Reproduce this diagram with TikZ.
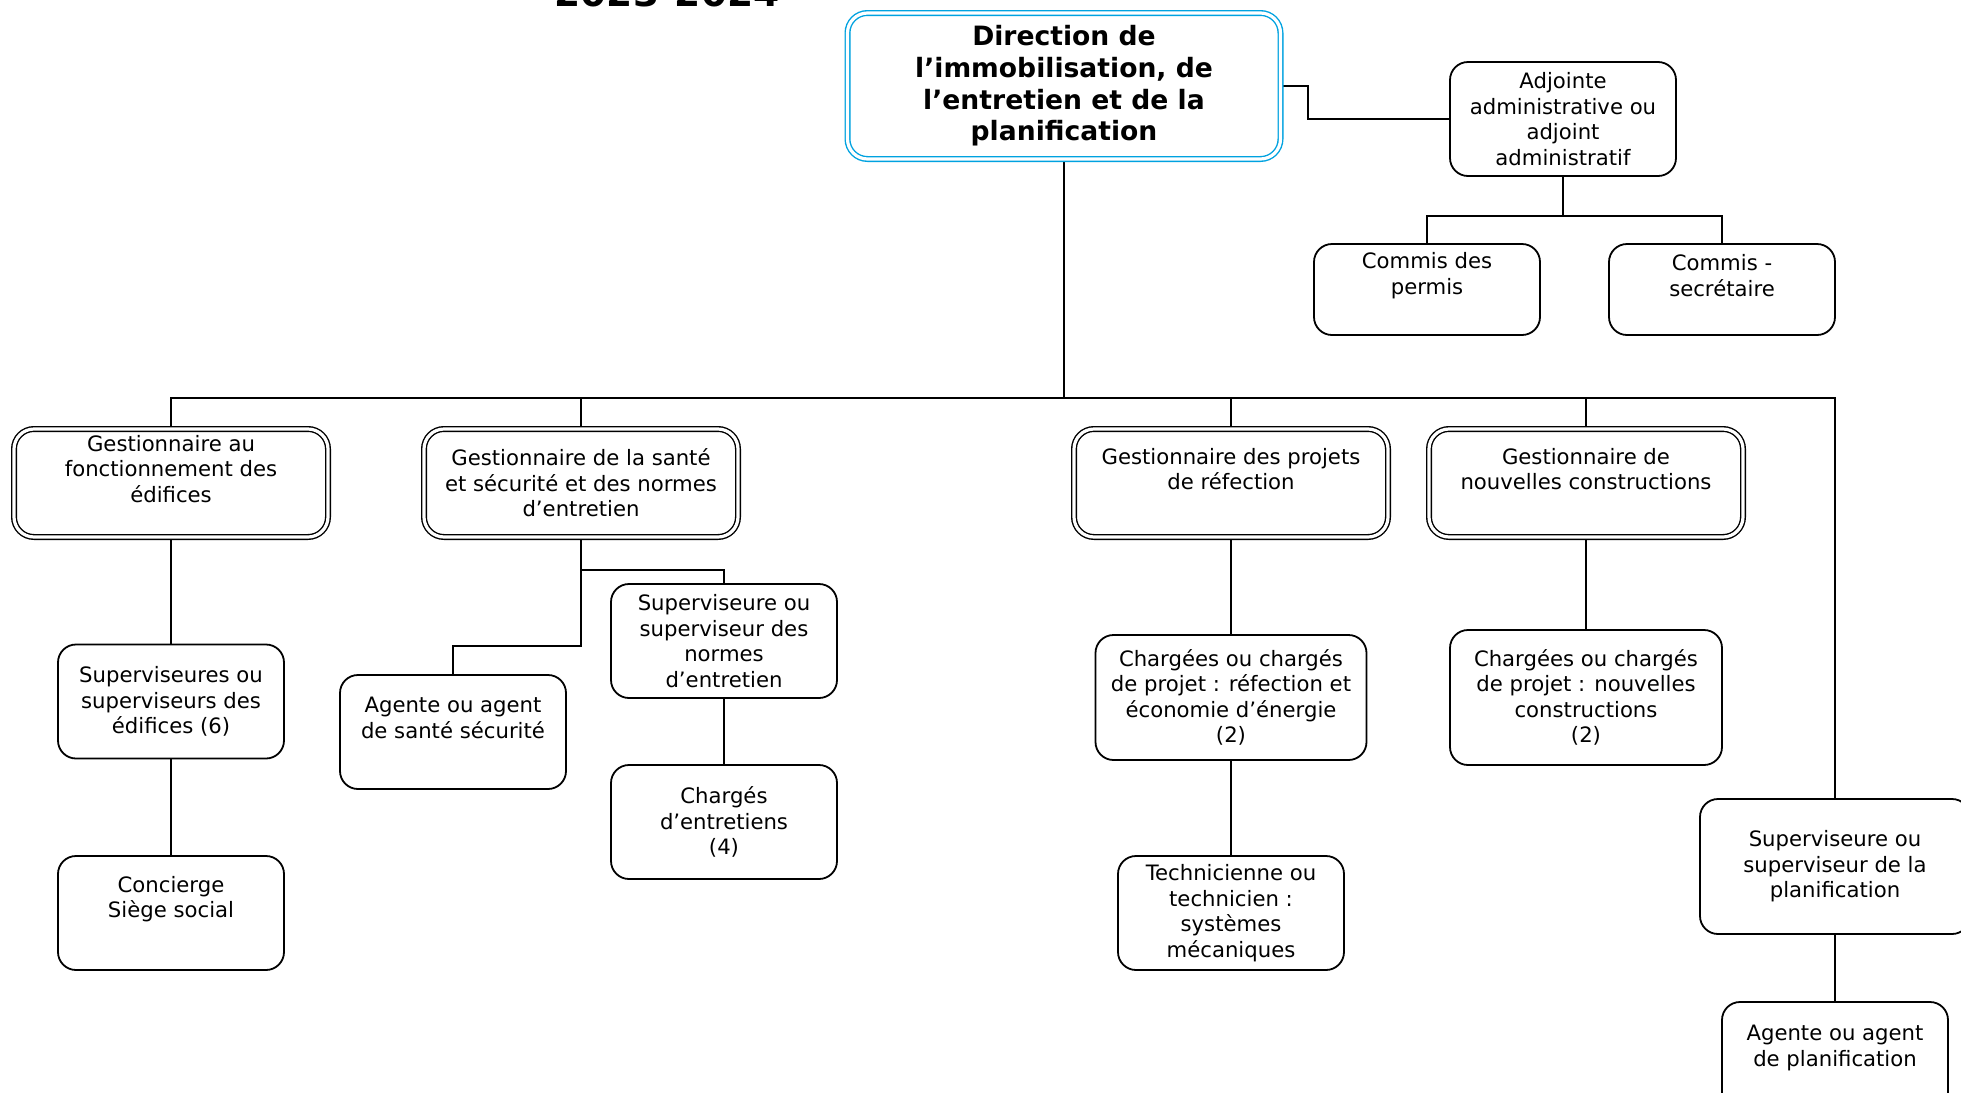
\documentclass[tikz,border=0pt]{standalone}
\usepackage{fontspec}
\setmainfont{DejaVu Sans}
\usepackage{tikz}
\usetikzlibrary{arrows,calc,positioning,backgrounds}
\definecolor{BlueDirection}{RGB}{0,162,224}

\begin{document}
\begin{tikzpicture}[x=0.5pt,y=-0.5pt,
    txt/.style={align=center,inner sep=0pt,font=\fontsize{10.6}{12.8}\selectfont},
    poste/.style={txt,draw,fill=white,line width=0.9pt,rounded corners=9pt,minimum width=113pt,minimum height=57pt},
    gest/.style={txt,draw,fill=white,double,line width=0.7pt,double distance=1.6pt,rounded corners=10pt,minimum width=157pt,minimum height=54pt},
    lien/.style={line width=1pt}]
    \useasboundingbox (0,0) rectangle (1961,1093);
    %%Title (cut at the top)
    \node[font=\fontsize{18.8}{22}\selectfont\bfseries,anchor=base,inner sep=0pt] (titre) at (667,6) {2023-2024};
    %%Direction
    \node[txt,draw=BlueDirection,fill=white,double,line width=0.7pt,double distance=1.6pt,rounded corners=10pt,
        minimum width=216.5pt,minimum height=73pt,font=\fontsize{13.3}{15.8}\selectfont\bfseries]
        (dir) at (1064,86) {Direction de\\l’immobilisation, de\\l’entretien et de la\\planification};
    %%Administration
    \node[poste] (adj) at (1563,119) {Adjointe\\administrative ou\\adjoint\\administratif};
    \node[poste,minimum height=45.5pt] (cp) at (1427,289.5) {};
    \node[txt] (cpt) at ([yshift=7pt]cp.center) {Commis des\\permis};
    \node[poste,minimum height=45.5pt] (cs) at (1722,289.5) {};
    \node[txt] (cst) at ([yshift=7pt]cs.center) {Commis -\\secrétaire};
    %%Gestionnaires
    \node[gest] (g1) at (171,483) {};
    \node[txt] (g1t) at ([yshift=7pt]g1.center) {Gestionnaire au\\fonctionnement des\\édifices};
    \node[gest] (g2) at (581,483) {Gestionnaire de la santé\\et sécurité et des normes\\d’entretien};
    \node[gest] (g3) at (1231,483) {};
    \node[txt] (g3t) at ([yshift=7pt]g3.center) {Gestionnaire des projets\\de réfection};
    \node[gest] (g4) at (1586,483) {};
    \node[txt] (g4t) at ([yshift=7pt]g4.center) {Gestionnaire de\\nouvelles constructions};
    %%Edifices
    \node[poste] (se) at (171,701.5) {Superviseures ou\\superviseurs des\\édifices (6)};
    \node[poste] (co) at (171,913) {};
    \node[txt] (cot) at ([yshift=7pt]co.center) {Concierge\\Siège social};
    %%Sante et normes
    \node[poste] (as) at (453,732) {};
    \node[txt] (ast) at ([yshift=7pt]as.center) {Agente ou agent\\de santé sécurité};
    \node[poste] (sn) at (724,641) {Superviseure ou\\superviseur des\\normes\\d’entretien};
    \node[poste] (ce) at (724,822) {Chargés\\d’entretiens\\(4)};
    %%Projets
    \node[poste,minimum width=135.5pt,minimum height=62.5pt] (cr) at (1231,697.5) {Chargées ou chargés\\de projet : réfection et\\économie d’énergie\\(2)};
    \node[poste] (te) at (1231,913) {Technicienne ou\\technicien :\\systèmes\\mécaniques};
    \node[poste,minimum width=136pt,minimum height=67.5pt] (cn) at (1586,697.5) {Chargées ou chargés\\de projet : nouvelles\\constructions\\(2)};
    %%Planification
    \node[poste,minimum width=135pt,minimum height=67.5pt] (sp) at (1835,866.5) {Superviseure ou\\superviseur de la\\planification};
    \node[poste] (ap) at (1835,1059) {};
    \node[txt] (apt) at ([yshift=5.5pt]ap.center) {Agente ou agent\\de planification};
    %%Links
    \begin{pgfonlayer}{background}
    \coordinate (bus) at (1064,398);
    \coordinate (adjbus) at (1563,216);
    \coordinate (g2a) at (581,570);
    \coordinate (g2b) at (581,646);
    \draw[lien] (dir.east) -- ++(27,0) |- (adj.west);
    \draw[lien] (adj.south) -- (adjbus);
    \draw[lien] (cp.north) |- (adjbus) -| (cs.north);
    \draw[lien] (dir.south) -- (bus);
    \draw[lien] (g1.north) |- (bus) -| (sp.north);
    \foreach \g in {g2,g3,g4}
        \draw[lien] (\g.north) -- (\g.north |- bus);
    \draw[lien] (g1.south) -- (se.north);
    \draw[lien] (se.south) -- (co.north);
    \draw[lien] (g2.south) -- (g2b) -| (as.north);
    \draw[lien] (g2a) -| (sn.north);
    \draw[lien] (sn.south) -- (ce.north);
    \draw[lien] (g3.south) -- (cr.north);
    \draw[lien] (cr.south) -- (te.north);
    \draw[lien] (g4.south) -- (cn.north);
    \draw[lien] (sp.south) -- (ap.north);
    \end{pgfonlayer}
\end{tikzpicture}
\end{document}
